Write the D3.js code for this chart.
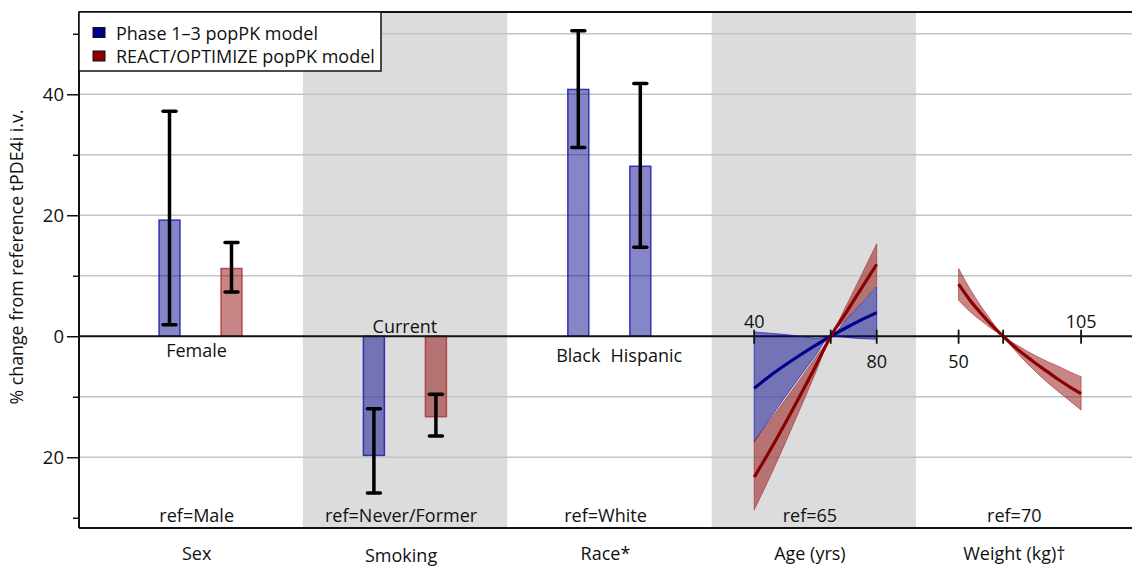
<!DOCTYPE html>
<html>
<head>
<meta charset="utf-8">
<script src="https://cdn.jsdelivr.net/npm/d3@7"></script>
<style>
  body { margin: 0; background: #fff; }
  text { font-family: "Open Sans", sans-serif; font-size: 18px; fill: #111; }
</style>
</head>
<body>
<div id="chart"></div>
<script>
// panels along the x axis
var panels = ["Sex", "Smoking", "Race*", "Age (yrs)", "Weight (kg)\u2020"];
var refLabels = ["ref=Male", "ref=Never/Former", "ref=White", "ref=65", "ref=70"];
var shadedPanels = ["Smoking", "Age (yrs)"];

// categorical covariate bars (% change, with 90% CI)
var barPanel = ["Sex", "Sex", "Smoking", "Smoking", "Race*", "Race*"];
var barModel = ["phase", "react", "phase", "react", "phase", "phase"];
var barSlot = ["a", "b", "a", "b", "a", "b"];
var barValue = [19.2, 11.2, -19.7, -13.3, 40.8, 28.1];
var barLow = [1.9, 7.3, -25.9, -16.5, 31.2, 14.7];
var barHigh = [37.2, 15.5, -12.0, -9.6, 50.5, 41.8];

// level labels
var levelText = ["Female", "Current", "Black", "Hispanic"];
var levelPanel = ["Sex", "Smoking", "Race*", "Race*"];
var levelSlot = ["mid", "mid", "a", "b"];
var levelAbove = [false, true, false, false];

// age (yrs) continuous effect
var ageGrid = [40, 45, 50, 55, 60, 65, 70, 75, 80];
var agePhaseMid = [-8.6, -6.6, -4.8, -3.1, -1.5, 0, 1.4, 2.7, 3.9];
var agePhaseLo = [-17.5, -13.7, -10.1, -6.6, -3.2, 0, -0.2, -0.4, -0.5];
var agePhaseHi = [0.7, 0.5, 0.3, 0.0, -0.3, 0, 2.7, 5.4, 8.2];
var ageReactMid = [-23.3, -19.0, -14.5, -9.8, -5.0, 0, 3.9, 7.9, 11.9];
var ageReactLo = [-28.7, -23.4, -17.8, -12.0, -6.1, 0, 2.8, 5.6, 8.4];
var ageReactHi = [-17.3, -14.0, -10.6, -7.1, -3.6, 0, 5.0, 10.1, 15.3];
var ageTicks = [40, 65, 80];
var ageTickLabels = ["40", "", "80"];
var ageTickAbove = [true, false, false];

// weight (kg) continuous effect
var wtGrid = [50, 55, 60, 65, 70, 75, 80, 85, 90, 95, 100, 105];
var wtReactMid = [8.6, 6.0, 3.8, 1.8, 0, -1.7, -3.2, -4.6, -5.9, -7.2, -8.4, -9.5];
var wtReactLo = [5.95, 4.1, 2.6, 1.2, 0, -2.2, -4.2, -6.0, -7.7, -9.2, -10.7, -12.2];
var wtReactHi = [11.2, 7.9, 5.0, 2.4, 0, -1.2, -2.3, -3.3, -4.2, -5.0, -5.9, -6.7];
var wtTicks = [50, 70, 105];
var wtTickLabels = ["50", "", "105"];
var wtTickAbove = [false, false, true];

// y axis
var yTicks = [-30, -20, -10, 0, 10, 20, 30, 40, 50];
var yGrid = [-20, -10, 10, 20, 30, 40, 50];

var legendLabels = ["Phase 1\u20133 popPK model", "REACT/OPTIMIZE popPK model"];

var W = 1132, H = 568;
var plotLeft = 79, plotRight = 1132, plotTop = 12, plotBottom = 528;

var colors = {
    phase: { line: "#00008b", fill: "rgba(0,0,139,0.48)", stroke: "rgba(20,20,170,0.8)" },
    react: { line: "#8b0000", fill: "rgba(139,0,0,0.48)", stroke: "rgba(170,40,40,0.75)" }
};

var svg = d3.select("#chart").append("svg")
    .attr("width", W)
    .attr("height", H);

var y = d3.scaleLinear().domain([-31.7, 53.6]).range([plotBottom, plotTop]);
var x = d3.scaleBand().domain(panels).range([98.5, 1120.5]);
var bw = x.bandwidth();
var slot = d3.scalePoint().domain(["a", "mid", "b"]).range([71, 133]);
var barW = 21;

// shaded panels
svg.selectAll("rect.shade")
    .data(shadedPanels)
    .enter().append("rect")
    .attr("x", function (d) { return x(d); })
    .attr("y", plotTop)
    .attr("width", bw)
    .attr("height", plotBottom - plotTop)
    .attr("fill", "#dcdcdc");

// gridlines
svg.selectAll("line.grid")
    .data(yGrid)
    .enter().append("line")
    .attr("x1", plotLeft).attr("x2", plotRight)
    .attr("y1", function (d) { return y(d); })
    .attr("y2", function (d) { return y(d); })
    .attr("stroke", "#c4c4c4")
    .attr("stroke-width", 1.5);

// y axis
var yAxis = d3.axisLeft(y)
    .tickValues(yTicks)
    .tickFormat(function (d) { return d % 20 === 0 ? Math.abs(d) : ""; })
    .tickSizeOuter(0);

var gy = svg.append("g")
    .attr("transform", "translate(" + plotLeft + ",0)")
    .call(yAxis);
gy.select(".domain").attr("stroke", "#111").attr("stroke-width", 2)
    .attr("d", "M0," + plotTop + "V" + plotBottom);
gy.selectAll(".tick line")
    .attr("stroke", "#111")
    .attr("stroke-width", 1.5)
    .attr("x2", function (d) { return d % 20 === 0 ? -12 : -6; });
gy.selectAll(".tick text")
    .attr("x", -15)
    .style("font-size", "18.5px")
    .style("font-family", "'Open Sans', sans-serif");

svg.append("text")
    .attr("transform", "translate(23," + 257 + ") rotate(-90)")
    .attr("text-anchor", "middle")
    .style("font-size", "17.8px")
    .text("% change from reference tPDE4i i.v.");

// frame lines
svg.append("line")
    .attr("x1", plotLeft).attr("x2", plotRight).attr("y1", plotTop).attr("y2", plotTop)
    .attr("stroke", "#111").attr("stroke-width", 2);
svg.append("line")
    .attr("x1", plotLeft).attr("x2", plotRight).attr("y1", plotBottom).attr("y2", plotBottom)
    .attr("stroke", "#111").attr("stroke-width", 2);

// bars
var bars = barValue.map(function (v, i) {
    return { panel: barPanel[i], model: barModel[i], slot: barSlot[i], v: v, lo: barLow[i], hi: barHigh[i] };
});

svg.selectAll("rect.bar")
    .data(bars)
    .enter().append("rect")
    .attr("x", function (d) { return x(d.panel) + slot(d.slot) - barW / 2; })
    .attr("y", function (d) { return y(Math.max(d.v, 0)); })
    .attr("width", barW)
    .attr("height", function (d) { return Math.abs(y(d.v) - y(0)); })
    .attr("fill", function (d) { return colors[d.model].fill; })
    .attr("stroke", function (d) { return colors[d.model].stroke; })
    .attr("stroke-width", 1.5);

// zero line
svg.append("line")
    .attr("x1", plotLeft).attr("x2", plotRight).attr("y1", y(0)).attr("y2", y(0))
    .attr("stroke", "#111").attr("stroke-width", 2);

// error bars
var eb = svg.selectAll("g.err")
    .data(bars)
    .enter().append("g")
    .attr("transform", function (d) { return "translate(" + (x(d.panel) + slot(d.slot)) + ",0)"; });
eb.append("line")
    .attr("y1", function (d) { return y(d.lo); })
    .attr("y2", function (d) { return y(d.hi); })
    .attr("stroke", "#000").attr("stroke-width", 3.5);
eb.selectAll("line.cap")
    .data(function (d) { return [d.lo, d.hi]; })
    .enter().append("line")
    .attr("x1", -6.5).attr("x2", 6.5)
    .attr("y1", function (d) { return y(d); })
    .attr("y2", function (d) { return y(d); })
    .attr("stroke", "#000").attr("stroke-width", 3.5)
    .attr("stroke-linecap", "round");

// level labels
svg.selectAll("text.level")
    .data(levelText)
    .enter().append("text")
    .attr("x", function (d, i) {
        var off = d === "Hispanic" ? 6 : (d === "Female" ? -4 : 0);
        return x(levelPanel[i]) + slot(levelSlot[i]) + off;
    })
    .attr("y", function (d, i) { return levelAbove[i] ? y(0) - 3 : y(0) + (d === "Female" ? 21 : 26); })
    .attr("text-anchor", "middle")
    .text(function (d) { return d; });

// continuous panels
function drawContinuous(panel, grid, domain, series, ticks, tickLabels, tickAbove) {
    var sx = d3.scaleLinear().domain(domain).range([x(panel) + 42.5, x(panel) + 165]);
    var area = d3.area()
        .x(function (d) { return sx(d.g); })
        .y0(function (d) { return y(d.lo); })
        .y1(function (d) { return y(d.hi); })
        .curve(d3.curveMonotoneX);
    var line = d3.line()
        .x(function (d) { return sx(d.g); })
        .y(function (d) { return y(d.mid); })
        .curve(d3.curveMonotoneX);

    var g = svg.append("g");
    series.forEach(function (s) {
        var pts = grid.map(function (gv, i) { return { g: gv, lo: s.lo[i], hi: s.hi[i], mid: s.mid[i] }; });
        s.pts = pts;
        g.append("path")
            .attr("d", area(pts))
            .attr("fill", colors[s.model].fill)
            .attr("stroke", colors[s.model].stroke)
            .attr("stroke-width", 0.8);
    });
    series.forEach(function (s) {
        g.append("path")
            .attr("d", line(s.pts))
            .attr("fill", "none")
            .attr("stroke", colors[s.model].line)
            .attr("stroke-width", 3.2);
    });

    g.selectAll("line.itick")
        .data(ticks)
        .enter().append("line")
        .attr("x1", function (d) { return sx(d); })
        .attr("x2", function (d) { return sx(d); })
        .attr("y1", y(0) - 6.5)
        .attr("y2", y(0) + 7.5)
        .attr("stroke", "#111").attr("stroke-width", 1.8);
    g.selectAll("text.itick")
        .data(ticks)
        .enter().append("text")
        .attr("x", function (d) { return sx(d); })
        .attr("y", function (d, i) { return tickAbove[i] ? y(0) - 8 : y(0) + 32; })
        .attr("text-anchor", "middle")
        .text(function (d, i) { return tickLabels[i]; });
}

drawContinuous("Age (yrs)", ageGrid, [40, 80], [
    { model: "phase", mid: agePhaseMid, lo: agePhaseLo, hi: agePhaseHi },
    { model: "react", mid: ageReactMid, lo: ageReactLo, hi: ageReactHi }
], ageTicks, ageTickLabels, ageTickAbove);

drawContinuous("Weight (kg)\u2020", wtGrid, [50, 105], [
    { model: "react", mid: wtReactMid, lo: wtReactLo, hi: wtReactHi }
], wtTicks, wtTickLabels, wtTickAbove);

// reference labels
svg.selectAll("text.ref")
    .data(refLabels)
    .enter().append("text")
    .attr("x", function (d, i) { return x(panels[i]) + bw / 2 - 4; })
    .attr("y", 522)
    .attr("text-anchor", "middle")
    .text(function (d) { return d; });

// panel labels
svg.selectAll("text.panel")
    .data(panels)
    .enter().append("text")
    .attr("x", function (d) { return x(d) + bw / 2 - 4; })
    .attr("y", function (d) { return d === "Smoking" ? 562 : 560; })
    .attr("text-anchor", "middle")
    .text(function (d) { return d; });

// legend
var lg = svg.append("g");
lg.append("rect")
    .attr("x", plotLeft).attr("y", plotTop)
    .attr("width", 302).attr("height", 59)
    .attr("fill", "#fff").attr("stroke", "#111").attr("stroke-width", 1.5);
var li = lg.selectAll("g.item")
    .data(legendLabels)
    .enter().append("g")
    .attr("transform", function (d, i) { return "translate(93," + (27.5 + i * 23.5) + ")"; });
li.append("rect")
    .attr("width", 12).attr("height", 10)
    .attr("fill", function (d, i) { return i === 0 ? "#00008b" : "#8b0000"; })
    .attr("stroke", "#111").attr("stroke-width", 1);
li.append("text")
    .attr("x", 23).attr("y", 12)
    .style("font-size", "18px")
    .text(function (d) { return d; });
</script>
</body>
</html>
